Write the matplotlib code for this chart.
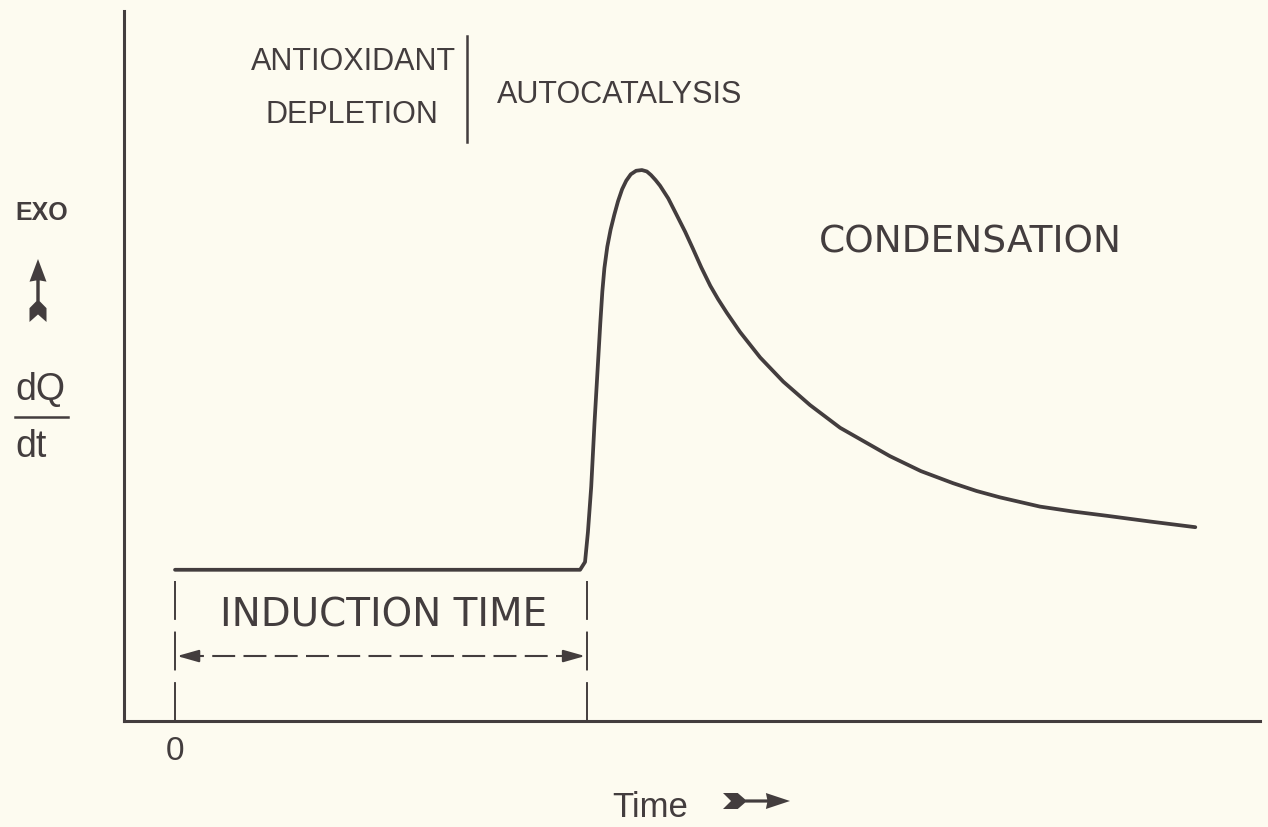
import matplotlib.pyplot as plt
from matplotlib.lines import Line2D
from matplotlib.patches import Polygon
from matplotlib.transforms import Affine2D

INK = '#433d3e'
PAPER = '#fdfbf0'

# heat flow trace: flat during induction, sharp exotherm, slow decay
time = [0.0, 9.83, 9.95, 10.02, 10.10, 10.18, 10.26, 10.32, 10.37, 10.42,
        10.49, 10.57, 10.66, 10.75, 10.85, 10.95, 11.06, 11.19, 11.33, 11.45,
        11.55, 11.66, 11.77, 11.97, 12.18, 12.38, 12.57, 12.77, 12.99, 13.18,
        13.39, 13.71, 14.20, 14.76, 15.41, 16.14, 17.35, 18.10, 18.88, 19.45,
        20.02, 20.99, 21.80, 22.62, 23.66, 24.76]
heat_flow = [21.3, 21.3, 22.4, 26.6, 33.0, 42.0, 50.0, 56.0, 60.5, 63.8,
             66.8, 69.2, 71.3, 73.2, 74.9, 76.1, 77.0, 77.5, 77.6, 77.4,
             76.9, 76.2, 75.4, 73.6, 71.2, 68.9, 66.5, 63.9, 61.3, 59.4,
             57.5, 54.8, 51.2, 47.8, 44.5, 41.3, 37.3, 35.2, 33.5, 32.4,
             31.5, 30.2, 29.5, 28.9, 28.1, 27.3]

induction_end = 10.0
stage_split = 7.09

# (text, time, heat flow, size) for the stage labels, baseline anchored
stage_labels = [('ANTIOXIDANT', 4.34, 91.8, 22),
                ('DEPLETION', 4.30, 84.4, 22),
                ('AUTOCATALYSIS', 10.80, 87.2, 22),
                ('CONDENSATION', 19.30, 66.1, 27),
                ('INDUCTION TIME', 5.07, 13.4, 28)]
label_fonts = ['Liberation Sans', 'Liberation Sans', 'Liberation Sans',
               'DejaVu Sans', 'DejaVu Sans']

PLAIN = ['Liberation Sans', 'DejaVu Sans']

fig = plt.figure(figsize=(12.68, 8.28), dpi=100, facecolor=PAPER)
ax = fig.add_axes([0.0978, 0.1280, 0.8959, 0.8575])
ax.set_facecolor('none')

ax.plot(time, heat_flow, color=INK, lw=2.7,
        solid_joinstyle='round', solid_capstyle='round')

# induction period markers
for t in (0.0, induction_end):
    ax.plot([t, t], [0, 20.0], color=INK, lw=1.4, dashes=(20, 6))
ax.plot([0.15, induction_end - 0.15], [9.15, 9.15], color=INK, lw=1.5,
        dashes=(11, 4))
for tip, tail in ((0.05, 0.6), (induction_end - 0.05, induction_end - 0.6)):
    ax.annotate('', xy=(tip, 9.15), xytext=(tail, 9.15),
                arrowprops=dict(arrowstyle='-|>,head_length=0.6,head_width=0.17',
                                color=INK, lw=1.5, mutation_scale=22,
                                shrinkA=0, shrinkB=0))

ax.plot([stage_split, stage_split], [81.5, 96.5], color=INK, lw=1.8)

for (text, t, q, size), fam in zip(stage_labels, label_fonts):
    ax.text(t, q, text, ha='center', va='baseline', fontsize=size,
            family=fam, color=INK)

ax.set_xlim(-1.238, 26.33)
ax.set_ylim(0, 100)
for side in ('top', 'right'):
    ax.spines[side].set_visible(False)
for side in ('left', 'bottom'):
    ax.spines[side].set_color(INK)
    ax.spines[side].set_linewidth(2.2)
ax.set_yticks([])
ax.set_xticks([0])
ax.set_xticklabels(['0'], family=PLAIN)
ax.tick_params(axis='x', length=0, pad=10, labelsize=24, labelcolor=INK)

# axis captions
fig.text(0.5126, 0.0133, 'Time', ha='center', va='baseline', fontsize=25,
         family=PLAIN, color=INK)
fig.text(0.0331, 0.7343, 'EXO', ha='center', va='baseline', fontsize=18,
         fontweight='bold', family=PLAIN, color=INK)
fig.text(0.0118, 0.5169, 'dQ', ha='left', va='baseline', fontsize=27,
         family=PLAIN, color=INK)
fig.text(0.0118, 0.4481, 'dt', ha='left', va='baseline', fontsize=27,
         family=PLAIN, color=INK)
fig.add_artist(Line2D([0.0118, 0.0536], [0.4952, 0.4952], color=INK, lw=1.8,
                      transform=fig.transFigure))

# fletched arrows beside the captions
DART = [(0, 1), (0.12, 0), (0, -1), (0.22, -1), (0.33, -0.2), (0.66, -0.2),
        (0.64, -1), (1, 0), (0.64, 1), (0.66, 0.2), (0.33, 0.2), (0.22, 1)]


def dart(x, y, length, width, angle):
    tr = (Affine2D().scale(length / 100, width / 200).rotate_deg(angle)
          .translate(x / 100, (828 - y) / 100) + fig.dpi_scale_trans)
    fig.add_artist(Polygon(DART, closed=True, transform=tr, fc=INK, ec='none'))


dart(723, 802, 67, 16, 0)
dart(38, 323, 63, 17, 90)

fig.savefig('out.png', dpi=100, facecolor=PAPER)
